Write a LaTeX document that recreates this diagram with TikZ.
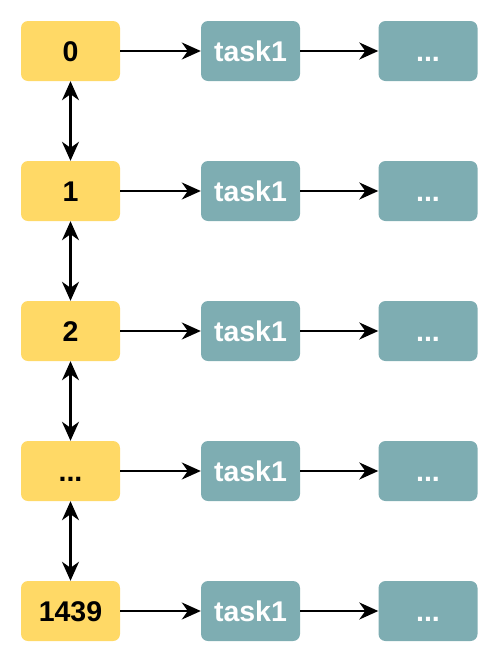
\documentclass[tikz,border=0pt]{standalone}
\usepackage{fontspec}
\setmainfont{Liberation Sans}
\usetikzlibrary{arrows.meta}
\definecolor{ybox}{HTML}{FFD966}
\definecolor{tbox}{HTML}{7EADB2}
\newcommand\mydots{...}
\begin{document}
\begin{tikzpicture}[x=1pt,y=-1pt,
  base/.style={minimum width=99pt,minimum height=60pt,rounded corners=7pt,inner sep=0pt,
    text height=20.5pt,text depth=0pt,
    font=\fontsize{28.5}{30}\selectfont\bfseries},
  ybx/.style={base,fill=ybox,text=black},
  tbx/.style={base,fill=tbox,text=white},
  conn/.style={line width=2.2pt,-{Stealth[length=19pt,width=17pt,inset=6pt]}},
  dconn/.style={line width=2.2pt,{Stealth[length=19pt,width=17pt,inset=6pt]}-{Stealth[length=19pt,width=17pt,inset=6pt]}}]
\useasboundingbox (0,0) rectangle (500,662);
\foreach \i/\lab in {0/0,1/1,2/2,3/\mydots,4/1439}{
  \node[ybx] (y\i) at (70.5,{51+140*\i}) {\lab};
  \node[tbx] (t\i) at (250.5,{51+140*\i}) {task1};
  \node[tbx] (d\i) at (428,{51+140*\i}) {\mydots};
  \draw[conn] (y\i) -- (t\i);
  \draw[conn] (t\i) -- (d\i);
}
\foreach \a/\b in {0/1,1/2,2/3,3/4}{
  \draw[dconn] (y\a) -- (y\b);
}
\end{tikzpicture}
\end{document}
